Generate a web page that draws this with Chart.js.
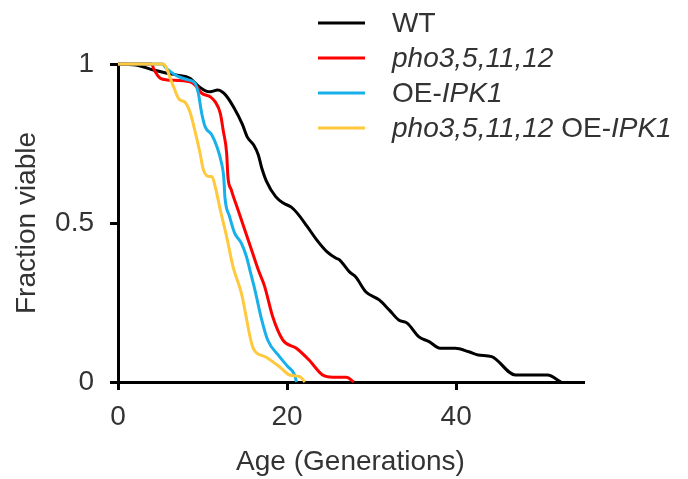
<!DOCTYPE html>
<html>
<head>
  <meta charset="utf-8">
  <title>Fraction viable vs age</title>
  <style type="text/css">
    body {
      margin: 0;
      padding: 0;
      background-color: #FFF;
    }
    .chart-box {
      width: 688px;
      height: 479px;
    }
  </style>
</head>
<body>
  <div class="chart-box"><canvas id="viabilityChart" width="688" height="479"></canvas></div>

  <script src="https://cdn.jsdelivr.net/npm/chart.js"></script>
  <script>
    // Replicative lifespan curves
    var wtAge  = [0, 2.4, 4.2, 5.8, 7.0, 8.5, 9.7, 10.5, 10.9, 11.8, 12.3, 12.8, 13.7, 14.7, 15.3, 16.05, 16.6, 17.0, 17.55, 18.65, 19.6, 20.5, 21.2, 22.35, 23.5, 24.7, 25.8, 26.2, 27.35, 28.1, 29.3, 30.9, 32.1, 33.2, 34.2, 35.6, 36.8, 38.1, 39.9, 41.5, 42.6, 44.2, 47.0, 48.5, 50.8, 52.4];
    var wtFrac = [1, 0.995, 0.981, 0.971, 0.965, 0.955, 0.926, 0.914, 0.913, 0.918, 0.913, 0.90, 0.863, 0.811, 0.77, 0.745, 0.714, 0.673, 0.632, 0.583, 0.562, 0.55, 0.531, 0.49, 0.447, 0.41, 0.389, 0.384, 0.347, 0.331, 0.284, 0.258, 0.226, 0.195, 0.185, 0.142, 0.127, 0.106, 0.106, 0.095, 0.085, 0.08, 0.022, 0.022, 0.022, 0];

    var phoAge  = [0, 4.0, 4.2, 5.0, 5.8, 8.5, 9.3, 9.9, 10.9, 11.5, 12.1, 12.45, 12.85, 13.0, 13.4, 14.2, 15.0, 15.8, 16.6, 17.35, 18.3, 19.5, 21.1, 22.6, 24.2, 25.4, 27.0, 27.9];
    var phoFrac = [1, 1, 0.986, 0.955, 0.95, 0.944, 0.929, 0.908, 0.897, 0.881, 0.845, 0.79, 0.72, 0.646, 0.604, 0.541, 0.478, 0.415, 0.352, 0.30, 0.205, 0.132, 0.106, 0.069, 0.022, 0.015, 0.015, 0];

    var oeAge  = [0, 5.3, 5.6, 6.2, 7.15, 8.3, 9.1, 9.5, 9.9, 10.3, 11.1, 11.7, 12.25, 12.5, 12.65, 13.2, 13.8, 14.6, 15.2, 15.6, 16.2, 17.0, 17.7, 19.1, 20.1, 20.9, 21.1];
    var oeFrac = [1, 1, 0.99, 0.976, 0.96, 0.95, 0.94, 0.908, 0.845, 0.803, 0.777, 0.74, 0.688, 0.646, 0.58, 0.52, 0.468, 0.436, 0.394, 0.352, 0.289, 0.195, 0.132, 0.08, 0.048, 0.022, 0];

    var bothAge  = [0, 5.35, 6.4, 7.2, 7.9, 8.5, 9.1, 9.7, 10.1, 10.9, 11.1, 11.5, 12.1, 12.85, 13.6, 14.6, 16.0, 17.35, 19.1, 20.3, 21.5, 22.1];
    var bothFrac = [1, 1, 0.94, 0.89, 0.88, 0.85, 0.79, 0.72, 0.667, 0.646, 0.646, 0.614, 0.541, 0.457, 0.363, 0.279, 0.106, 0.08, 0.048, 0.022, 0.017, 0];

    var xTicks = [0, 20, 40];
    var yTicks = [0, 0.5, 1];
    var yTickLabels = ['0', '0.5', '1'];

    // legend text pieces: [text, italic]
    var legendParts = [
      [['WT', false]],
      [['pho3,5,11,12', true]],
      [['OE-', false], ['IPK1', true]],
      [['pho3,5,11,12', true], [' OE-', false], ['IPK1', true]]
    ];

    function toPoints(xs, ys) {
      var pts = [];
      for (var i = 0; i < xs.length; i++) {
        pts.push({x: xs[i], y: ys[i]});
      }
      return pts;
    }

    function serie(label, xs, ys, color, order) {
      return {
        label: label,
        data: toPoints(xs, ys),
        borderColor: color,
        backgroundColor: color,
        borderWidth: 3,
        pointRadius: 0,
        cubicInterpolationMode: 'monotone',
        fill: false,
        clip: false,
        order: order
      };
    }

    var textColor = '#333333';
    var fontName = '"Liberation Sans", Arial, sans-serif';

    // own legend drawing (mixed italic text)
    var legendPlugin = {
      id: 'mixedLegend',
      afterDraw: function(chart) {
        var ctx = chart.ctx;
        var sets = chart.data.datasets;
        ctx.save();
        ctx.textBaseline = 'middle';
        for (var i = 0; i < sets.length; i++) {
          var y = 23 + i * 35;
          ctx.strokeStyle = sets[i].borderColor;
          ctx.lineWidth = 3;
          ctx.beginPath();
          ctx.moveTo(318, y);
          ctx.lineTo(365, y);
          ctx.stroke();
          var x = 392;
          ctx.fillStyle = textColor;
          legendParts[i].forEach(function(p) {
            ctx.font = (p[1] ? 'italic ' : '') + '28px ' + fontName;
            ctx.fillText(p[0], x, y + 1);
            x += ctx.measureText(p[0]).width;
          });
        }
        ctx.restore();
      }
    };

    var ctx = document.getElementById('viabilityChart').getContext('2d');
    var viabilityChart = new Chart(ctx, {
      type: 'line',
      data: {
        datasets: [
          serie('WT', wtAge, wtFrac, '#000000', 3),
          serie('pho3,5,11,12', phoAge, phoFrac, '#ff0000', 2),
          serie('OE-IPK1', oeAge, oeFrac, '#18b0ea', 1),
          serie('pho3,5,11,12 OE-IPK1', bothAge, bothFrac, '#ffc83d', 0)
        ]
      },
      options: {
        responsive: false,
        animation: false,
        layout: {
          padding: {left: 0, right: 105, top: 64, bottom: 0}
        },
        plugins: {
          legend: {display: false},
          tooltip: {enabled: false}
        },
        scales: {
          x: {
            type: 'linear',
            min: 0,
            max: 55,
            afterFit: function(scale) { scale.height = 97; },
            afterBuildTicks: function(scale) {
              scale.ticks = xTicks.map(function(v) { return {value: v}; });
            },
            border: {color: '#000', width: 3},
            grid: {drawOnChartArea: false, color: '#000', lineWidth: 3, tickLength: 8},
            ticks: {color: textColor, font: {family: fontName, size: 28}, padding: 10, maxRotation: 0},
            title: {display: true, text: 'Age (Generations)', color: textColor, font: {family: fontName, size: 28}, padding: {top: 4, bottom: 0}}
          },
          y: {
            min: 0,
            max: 1,
            afterFit: function(scale) { scale.width = 118; },
            afterBuildTicks: function(scale) {
              scale.ticks = yTicks.map(function(v) { return {value: v}; });
            },
            border: {color: '#000', width: 3},
            grid: {drawOnChartArea: false, color: '#000', lineWidth: 3, tickLength: 8},
            ticks: {
              color: textColor, font: {family: fontName, size: 28}, padding: 16,
              callback: function(v) { return yTickLabels[yTicks.indexOf(v)]; }
            },
            title: {display: true, text: 'Fraction viable', color: textColor, font: {family: fontName, size: 28}, padding: {top: 10, bottom: 0}}
          }
        }
      },
      plugins: [legendPlugin]
    });
  </script>
</body>
</html>
